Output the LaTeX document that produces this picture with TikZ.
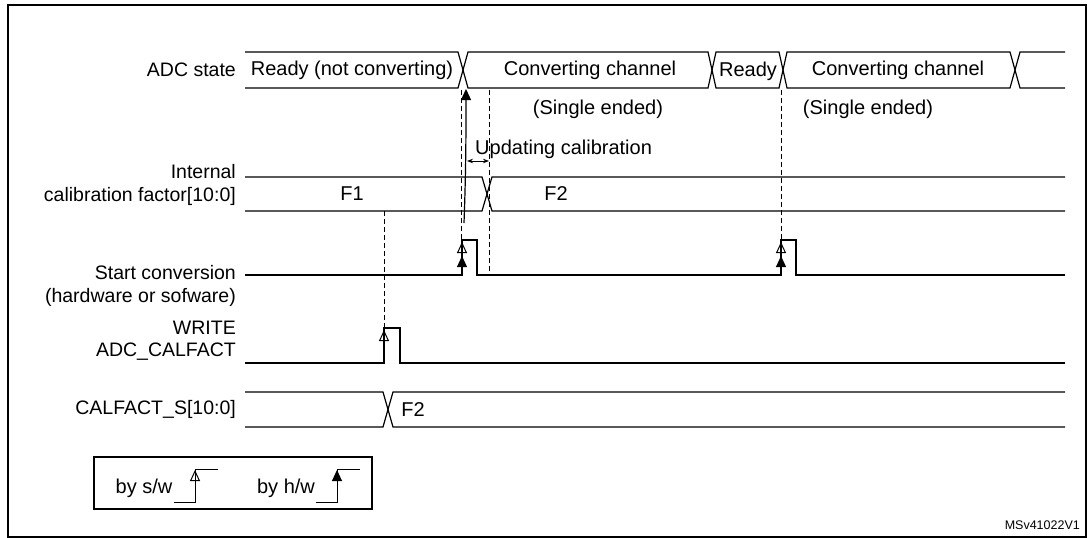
\documentclass[tikz,border=0pt]{standalone}
\usepackage{fontspec}
\setmainfont{Liberation Sans}
\usetikzlibrary{arrows.meta}
\tikzset{
  lbl/.style={anchor=east,font=\fontsize{19.5}{22}\selectfont,inner sep=0pt},
  txt/.style={font=\fontsize{20}{23}\selectfont,inner sep=0pt},
  wave/.style={line width=1.2pt},
  guide/.style={dash pattern=on 5pt off 3pt,line width=1pt},
  swtip/.style={-{Triangle[open,length=11pt,width=10pt]}},
  hwtip/.style={-{Triangle[length=11pt,width=10pt]}}
}
\begin{document}
\begin{tikzpicture}[x=1pt,y=-1pt]
        \useasboundingbox (0,0) rectangle (1087,538);
        \draw[line width=1.5pt](8,5)--(8,537)--(1086,537)--(1086,5)--cycle;
        % signal names
        \node[lbl] (nadc) at (236,70) {ADC state};
        \node[lbl] (ncal1) at (236,172) {Internal};
        \node[lbl] (ncal2) at (236,196) {calibration factor[10:0]};
        \node[lbl] (nst1) at (236,273) {Start conversion};
        \node[lbl] (nst2) at (236,297) {(hardware or sofware)};
        \node[lbl] (nwr1) at (236,328) {WRITE};
        \node[lbl] (nwr2) at (236,352) {ADC\_CALFACT};
        \node[lbl] (ncs) at (236,409) {CALFACT\_S[10:0]};
        % ADC state bus
        \draw[wave] (245,52)--(458,52)--(468,88)--(708,88)--(716,52)--(779,52)--(787,88)--(1010,88)--(1020,52)--(1065,52);
        \draw[wave] (245,88)--(458,88)--(468,52)--(708,52)--(716,88)--(779,88)--(787,52)--(1010,52)--(1020,88)--(1065,88);
        \node[txt] (sready) at (352,70) {Ready (not converting)};
        \node[txt] (sconv1) at (590,70) {Converting channel};
        \node[txt] (sready2) at (748,71) {Ready};
        \node[txt] (sconv2) at (898,70) {Converting channel};
        \node[txt] (ssing1) at (598,109) {(Single ended)};
        \node[txt] (ssing2) at (868,109) {(Single ended)};
        \node[txt,anchor=west] (supd) at (475,149) {Updating calibration};
        % calibration factor bus
        \draw[wave] (245,177)--(482,177)--(492,211)--(1065,211);
        \draw[wave] (245,211)--(482,211)--(492,177)--(1065,177);
        \node[txt] (sf1) at (352,194) {F1};
        \node[txt] (sf2) at (556,194) {F2};
        % start conversion
        \draw[wave] (245,275)--(462,275)--(462,240)--(477,240)--(477,275)--(781,275)--(781,240)--(796,240)--(796,275)--(1065,275);
        \foreach \x in {462,781} {
          \draw[hwtip,line width=1pt] (\x,275)--(\x,256);
          \draw[swtip,line width=1pt] (\x,262)--(\x,242);
        }
        % write
        \draw[wave] (245,363)--(384,363)--(384,328)--(400,328)--(400,363)--(1065,363);
        \draw[swtip,line width=1pt] (384,352)--(384,330);
        % calfact_s bus
        \draw[wave] (245,392)--(383,392)--(393,427)--(1065,427);
        \draw[wave] (245,427)--(383,427)--(393,392)--(1065,392);
        \node[txt] (sf3) at (413,410) {F2};
        % guides
        \draw[guide] (384,211)--(384,328);
        \draw[guide] (461,90)--(461,240);
        \draw[guide] (489,90)--(489,275);
        \draw[guide] (781,90)--(781,240);
        \draw[{Stealth[length=6pt]}-{Stealth[length=6pt]},line width=1pt] (467,161)--(489,161);
        \draw[hwtip,line width=1.2pt] (464,223) ..controls (466,170) and (466,130) .. (466,89);
        % legend
        \draw[line width=1.2pt] (94,457) rectangle (372,509);
        \node[txt] (lsw) at (144,488) {by s/w};
        \draw[line width=1pt] (174,502)--(195,502)--(195,469)--(218,469);
        \draw[swtip,line width=1pt] (195,490)--(195,470);
        \node[txt] (lhw) at (286,488) {by h/w};
        \draw[line width=1pt] (316,502)--(337,502)--(337,469)--(360,469);
        \draw[hwtip,line width=1pt] (337,490)--(337,470);
        \node[txt,anchor=east,font=\fontsize{12.5}{14}\selectfont] (ref) at (1080,525) {MSv41022V1};
\end{tikzpicture}
\end{document}
